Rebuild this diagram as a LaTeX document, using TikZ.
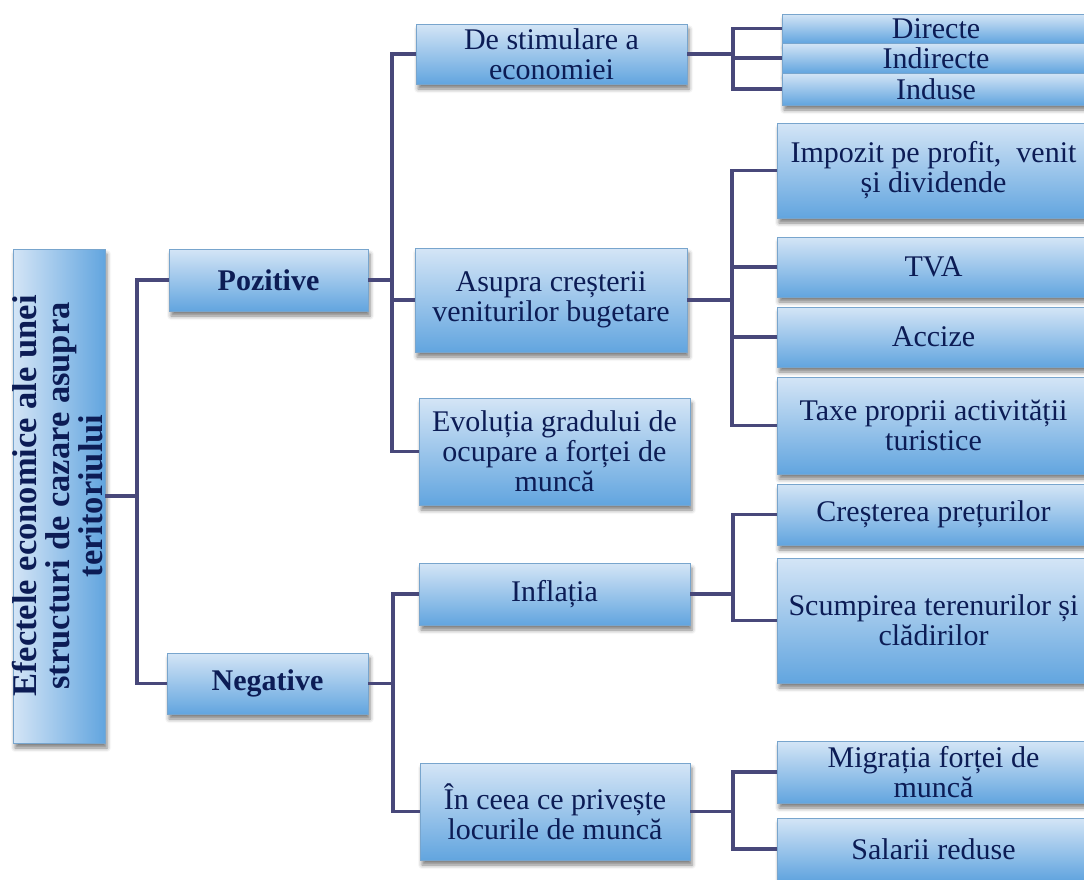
\documentclass[tikz,border=0pt]{standalone}
\usepackage{fontspec}
\setmainfont{Liberation Serif}
\usetikzlibrary{shadows.blur}
\definecolor{boxtop}{RGB}{212,229,246}
\definecolor{boxbot}{RGB}{98,165,223}
\definecolor{boxline}{RGB}{120,165,205}
\definecolor{conncol}{RGB}{72,72,122}
\definecolor{txt}{RGB}{12,28,85}
\tikzset{
  boxshadow/.style={blur shadow={shadow xshift=2pt, shadow yshift=-5pt, shadow blur radius=4pt, shadow opacity=50}},
  box/.style={draw=boxline, line width=0.8pt, top color=boxtop, bottom color=boxbot,
    text=txt, inner sep=0pt, align=center, font=\fontsize{30}{30}\selectfont, boxshadow},
  rootbox/.style={draw=boxline, line width=0.8pt, left color=boxtop, right color=boxbot, inner sep=0pt, boxshadow},
  boldbox/.style={box, font=\bfseries\fontsize{30}{30}\selectfont},
  link/.style={draw=conncol, line width=3.2pt, line join=miter}
}
\begin{document}
\begin{tikzpicture}[x=1pt,y=-1pt]
\useasboundingbox (0,0) rectangle (1084,879);
\clip (0,0) rectangle (1084,879);
% root
\node[rootbox, minimum width=92pt, minimum height=494pt] (root) at (59,496) {};
\node[rotate=90, text=txt, align=center, inner sep=0pt, font=\bfseries\fontsize{34.5}{33}\selectfont] (roottext) at (58,496) {Efectele economice ale unei\\structuri de cazare asupra\\teritoriului};
% level 1
\node[boldbox, minimum width=199pt, minimum height=62pt] (poz) at (268.5,280) {Pozitive};
\node[boldbox, minimum width=201pt, minimum height=61pt] (neg) at (267.5,683.5) {Negative};
% level 2
\node[box, minimum width=271pt, minimum height=60pt] (stim) at (551.5,54) {De stimulare a\\economiei};
\node[box, minimum width=272pt, minimum height=104pt] (asup) at (551,300) {Asupra creșterii\\veniturilor bugetare};
\node[box, minimum width=271pt, minimum height=107pt] (evol) at (554.5,451.5) {Evoluția gradului de\\ocupare a forței de\\muncă};
\node[box, minimum width=271pt, minimum height=62pt] (infl) at (554.5,594) {Inflația};
\node[box, minimum width=270pt, minimum height=97pt] (ceea) at (555,811.5) {În ceea ce privește\\locurile de muncă};
% level 3
\node[box, minimum width=308pt, minimum height=29pt] (dir) at (936,28.5) {Directe};
\node[box, minimum width=308pt, minimum height=30pt] (indir) at (936,58) {Indirecte};
\node[box, minimum width=308pt, minimum height=32pt] (ind) at (936,89) {Induse};
\node[box, minimum width=313pt, minimum height=95pt] (imp) at (933.5,170.5) {Impozit pe profit,~ venit\\și dividende};
\node[box, minimum width=313pt, minimum height=60pt] (tva) at (933.5,267) {TVA};
\node[box, minimum width=313pt, minimum height=60pt] (acc) at (933.5,337) {Accize};
\node[box, minimum width=313pt, minimum height=97pt] (taxe) at (933.5,425.5) {Taxe proprii activității\\turistice};
\node[box, minimum width=313pt, minimum height=61pt] (cres) at (933.5,514.5) {Creșterea prețurilor};
\node[box, minimum width=313pt, minimum height=125pt] (scum) at (933.5,620.5) {Scumpirea terenurilor și\\clădirilor};
\node[box, minimum width=313pt, minimum height=62pt] (migr) at (933.5,772) {Migrația forței de\\muncă};
\node[box, minimum width=313pt, minimum height=62pt] (sal) at (933.5,849) {Salarii reduse};
% bus coordinates
\coordinate (b0) at (137,0);
\coordinate (b1) at (392,0);
\coordinate (b2) at (393,0);
\coordinate (b3) at (733,0);
\coordinate (b4) at (732,0);
\coordinate (b5) at (733,0);
\coordinate (b6) at (733,0);
% connectors
\draw[link] (root.east) -- (root.east -| b0);
\draw[link] (poz.west) -- (poz.west -| b0) -- (neg.west -| b0) -- (neg.west);
\draw[link] (poz.east) -- (poz.east -| b1);
\draw[link] (stim.west) -- (stim.west -| b1) -- (evol.west -| b1) -- (evol.west);
\draw[link] (asup.west -| b1) -- (asup.west);
\draw[link] (neg.east) -- (neg.east -| b2);
\draw[link] (infl.west) -- (infl.west -| b2) -- (ceea.west -| b2) -- (ceea.west);
\draw[link] (stim.east) -- (stim.east -| b3);
\draw[link] (dir.west) -- (dir.west -| b3) -- (ind.west -| b3) -- (ind.west);
\draw[link] (indir.west -| b3) -- (indir.west);
\draw[link] (asup.east) -- (asup.east -| b4);
\draw[link] (imp.west) -- (imp.west -| b4) -- (taxe.west -| b4) -- (taxe.west);
\draw[link] (tva.west -| b4) -- (tva.west);
\draw[link] (acc.west -| b4) -- (acc.west);
\draw[link] (infl.east) -- (infl.east -| b5);
\draw[link] (cres.west) -- (cres.west -| b5) -- (scum.west -| b5) -- (scum.west);
\draw[link] (ceea.east) -- (ceea.east -| b6);
\draw[link] (migr.west) -- (migr.west -| b6) -- (sal.west -| b6) -- (sal.west);
\end{tikzpicture}
\end{document}
